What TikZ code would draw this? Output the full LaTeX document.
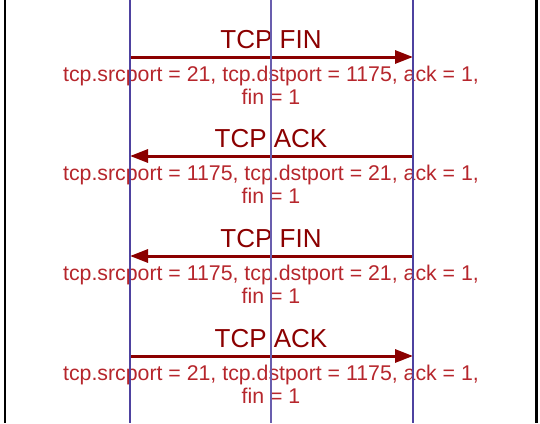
\documentclass[tikz,border=0pt]{standalone}
\usepackage{fontspec}
\setmainfont{Liberation Sans}
\usetikzlibrary{arrows.meta}
\definecolor{msgred}{RGB}{139,0,0}
\definecolor{lblred}{RGB}{182,38,44}
\definecolor{lifeblue}{RGB}{78,66,160}
\tikzset{
  frameline/.style={draw=black,line width=2.4pt},
  lifeline/.style={draw=lifeblue,line width=2pt},
  midline/.style={draw=lifeblue!85,line width=1.3pt},
  msg/.style={draw=msgred,line width=3pt,-{Triangle[length=18pt,width=13pt]}},
  biglabel/.style={text=msgred,anchor=base,inner sep=0pt,font=\fontsize{26}{30}\selectfont},
  smalllabel/.style={text=lblred,anchor=base,inner sep=0pt,align=center,font=\fontsize{21.3}{23}\selectfont},
}
\begin{document}
\begin{tikzpicture}[x=1pt,y=-1pt]
\useasboundingbox (0,0) rectangle (540,423);
% coordinates
\coordinate (Ltop) at (130,0);   \coordinate (Lbot) at (130,423);
\coordinate (Mtop) at (271,0);   \coordinate (Mbot) at (271,423);
\coordinate (Rtop) at (413,0);   \coordinate (Rbot) at (413,423);
\coordinate (FLtop) at (5,0);    \coordinate (FLbot) at (5,423);
\coordinate (FRtop) at (536.5,0);\coordinate (FRbot) at (536.5,423);
\coordinate (m1L) at (130,57);  \coordinate (m1R) at (413,57);
\coordinate (m2L) at (130,156); \coordinate (m2R) at (413,156);
\coordinate (m3L) at (130,256); \coordinate (m3R) at (413,256);
\coordinate (m4L) at (130,356); \coordinate (m4R) at (413,356);
% frame sides
\draw[frameline] (FLtop) -- (FLbot);
\draw[frameline] (FRtop) -- (FRbot);
% messages
\draw[msg] (m1L) -- (m1R);
\node[biglabel] (t1) at (271,48) {TCP FIN};
\node[smalllabel] (d1) at (271,104) {tcp.srcport = 21, tcp.dstport = 1175, ack = 1,\\fin = 1};
\draw[msg] (m2R) -- (m2L);
\node[biglabel] (t2) at (271,147) {TCP ACK};
\node[smalllabel] (d2) at (271,203) {tcp.srcport = 1175, tcp.dstport = 21, ack = 1,\\fin = 1};
\draw[msg] (m3R) -- (m3L);
\node[biglabel] (t3) at (271,247) {TCP FIN};
\node[smalllabel] (d3) at (271,303) {tcp.srcport = 1175, tcp.dstport = 21, ack = 1,\\fin = 1};
\draw[msg] (m4L) -- (m4R);
\node[biglabel] (t4) at (271,347) {TCP ACK};
\node[smalllabel] (d4) at (271,403) {tcp.srcport = 21, tcp.dstport = 1175, ack = 1,\\fin = 1};
% lifelines on top
\draw[lifeline] (Ltop) -- (Lbot);
\draw[midline] (Mtop) -- (Mbot);
\draw[lifeline] (Rtop) -- (Rbot);
\end{tikzpicture}
\end{document}
